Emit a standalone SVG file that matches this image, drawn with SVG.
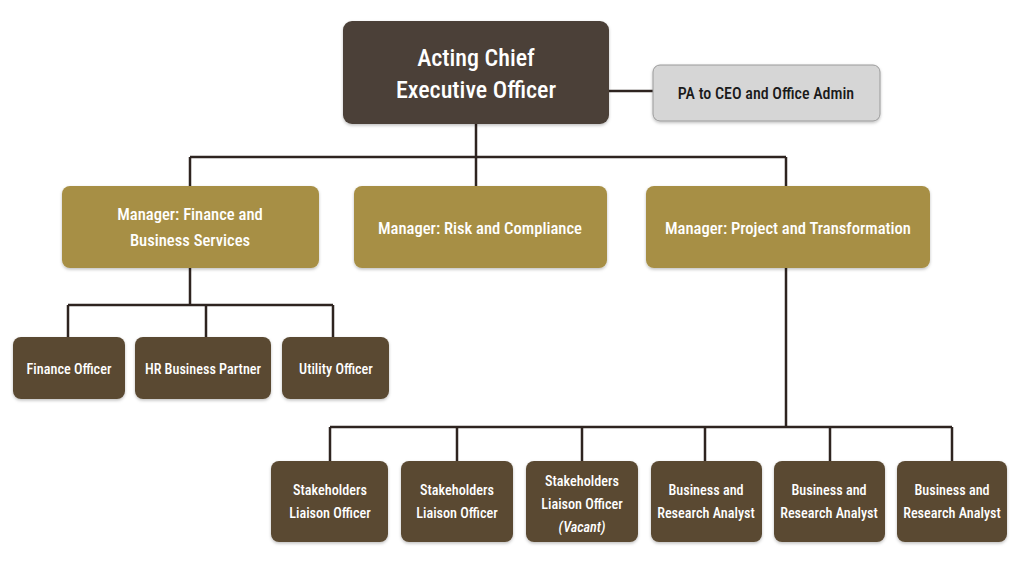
<svg xmlns="http://www.w3.org/2000/svg" width="1024" height="581" viewBox="0 0 1024 581">
<defs>
<filter id="sh" x="-10%" y="-10%" width="120%" height="130%">
<feDropShadow dx="0" dy="1.5" stdDeviation="1.5" flood-color="#000" flood-opacity="0.25"/>
</filter>
<style>
.ceo{fill:#4b4037;filter:url(#sh)}
.pa{fill:#d6d6d6;stroke:#9a9a9a;stroke-width:1;filter:url(#sh)}
.mgr{fill:#a78f45;filter:url(#sh)}
.staff{fill:#5a4a32;filter:url(#sh)}
text{font-family:"Liberation Sans Narrow","Roboto Condensed","Liberation Sans",sans-serif;text-anchor:middle;fill:#fff;font-weight:500}
.t-ceo{font-size:24px}
.t-pa{font-size:16px;fill:#1a1a1a}
.t-mgr{font-size:16.6px}
.t-st{font-size:14.2px}
.it{font-style:italic}
.ln{fill:none;stroke:#2e2420;stroke-width:2.5}
</style>
</defs>
<rect width="1024" height="581" fill="#ffffff"/>
<g id="connectors">
<path class="ln" d="M609 91H653"/>
<path class="ln" d="M476 124V157M190 157H786M190 157V186M476 157V186M786 157V186"/>
<path class="ln" d="M190 268V305M68 305H333M68 305V337M206 305V337M333 305V337"/>
<path class="ln" d="M786 268V427M330 427H952M330 427V461M457 427V461M582 427V461M705 427V461M830 427V461M952 427V461"/>
</g>
<g id="ceo">
<rect class="ceo" x="343" y="21" width="266" height="103" rx="9"/>
<text class="t-ceo" x="476" y="66">Acting Chief</text>
<text class="t-ceo" x="476" y="98">Executive Officer</text>
</g>
<g id="pa">
<rect class="pa" x="653" y="65" width="227" height="56" rx="7"/>
<text class="t-pa" x="766" y="99">PA to CEO and Office Admin</text>
</g>
<g id="mgr-finance">
<rect class="mgr" x="62" y="186" width="257" height="82" rx="8"/>
<text class="t-mgr" x="190" y="220">Manager: Finance and</text>
<text class="t-mgr" x="190" y="246">Business Services</text>
</g>
<g id="mgr-risk">
<rect class="mgr" x="354" y="186" width="253" height="82" rx="8"/>
<text class="t-mgr" x="480" y="234">Manager: Risk and Compliance</text>
</g>
<g id="mgr-project">
<rect class="mgr" x="646" y="186" width="284" height="82" rx="8"/>
<text class="t-mgr" x="788" y="234">Manager: Project and Transformation</text>
</g>
<g id="finance-officer">
<rect class="staff" x="13" y="337" width="112" height="62" rx="8"/>
<text class="t-st" x="69" y="374">Finance Officer</text>
</g>
<g id="hr-partner">
<rect class="staff" x="135" y="337" width="136" height="62" rx="8"/>
<text class="t-st" x="203" y="374">HR Business Partner</text>
</g>
<g id="utility-officer">
<rect class="staff" x="282" y="337" width="107" height="62" rx="8"/>
<text class="t-st" x="336" y="374">Utility Officer</text>
</g>
<g id="slo1">
<rect class="staff" x="271" y="461" width="117" height="81" rx="8"/>
<text class="t-st" x="330" y="495">Stakeholders</text>
<text class="t-st" x="330" y="518">Liaison Officer</text>
</g>
<g id="slo2">
<rect class="staff" x="401" y="461" width="112" height="81" rx="8"/>
<text class="t-st" x="457" y="495">Stakeholders</text>
<text class="t-st" x="457" y="518">Liaison Officer</text>
</g>
<g id="slo3">
<rect class="staff" x="526" y="461" width="112" height="81" rx="8"/>
<text class="t-st" x="582" y="486">Stakeholders</text>
<text class="t-st" x="582" y="509">Liaison Officer</text>
<text class="t-st it" x="582" y="532">(Vacant)</text>
</g>
<g id="bra1">
<rect class="staff" x="651" y="461" width="111" height="81" rx="8"/>
<text class="t-st" x="706" y="495">Business and</text>
<text class="t-st" x="706" y="518">Research Analyst</text>
</g>
<g id="bra2">
<rect class="staff" x="774" y="461" width="111" height="81" rx="8"/>
<text class="t-st" x="829" y="495">Business and</text>
<text class="t-st" x="829" y="518">Research Analyst</text>
</g>
<g id="bra3">
<rect class="staff" x="897" y="461" width="110" height="81" rx="8"/>
<text class="t-st" x="952" y="495">Business and</text>
<text class="t-st" x="952" y="518">Research Analyst</text>
</g>
</svg>
